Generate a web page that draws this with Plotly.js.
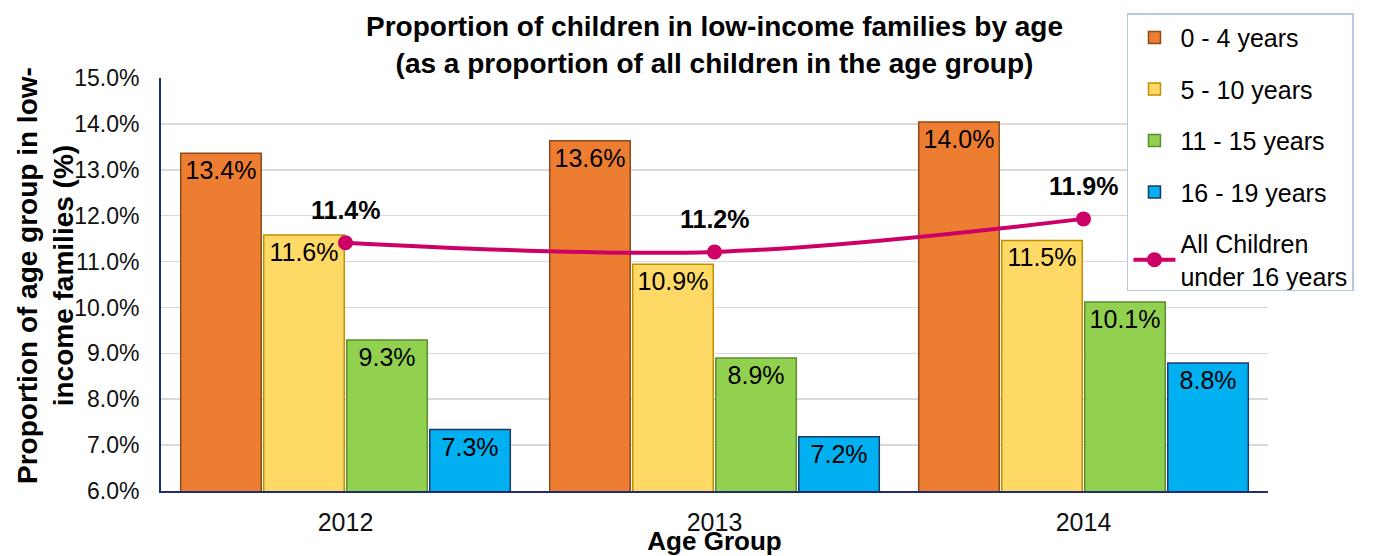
<!DOCTYPE html>
<html>
<head>
<meta charset="utf-8">
<script src="https://cdn.plot.ly/plotly-3.0.1.min.js"></script>
<style>html,body{margin:0;padding:0;background:#fff;}#chart{width:1374px;height:556px;}</style>
</head>
<body>
<div id="chart"></div>
<script>
var years = ['2012', '2013', '2014'];
var age0to4 = [13.36, 13.63, 14.04];
var age5to10 = [11.58, 10.94, 11.46];
var age11to15 = [9.29, 8.90, 10.12];
var age16to19 = [7.34, 7.18, 8.79];
var allUnder16 = [11.41, 11.21, 11.93];
var seriesNames = ['0 - 4 years', '5 - 10 years', '11 - 15 years', '16 - 19 years', 'All Children<br>under 16 years'];
var yTitle = '<b>Proportion of age group in low-<br>income families (%)</b>';

var FONT = 'Liberation Sans, Arial, sans-serif';
var fills = ['#ED7D31', '#FFD966', '#92D050', '#00B0F0'];
var edges = ['#8A4A1C', '#BF9000', '#5E8C31', '#1F3864'];
var barData = [age0to4, age5to10, age11to15, age16to19];

var traces = barData.map(function (vals, i) {
  return {
    type: 'bar', x: years, y: vals, name: seriesNames[i], legendgroup: 'g' + i,
    marker: {color: fills[i], line: {color: edges[i], width: 1.5}},
    texttemplate: '%{y:.1f}%', textposition: 'inside', insidetextanchor: 'end',
    textangle: 0, constraintext: 'none',
    insidetextfont: {family: FONT, size: 25, color: '#000'},
    hoverinfo: 'skip'
  };
});
traces.push({
  type: 'scatter', mode: 'lines+markers', x: years, y: allUnder16, name: seriesNames[4], legendgroup: 'g4',
  line: {color: '#CC0066', width: 4, shape: 'spline', smoothing: 1},
  marker: {color: '#CC0066', size: 15},
  hoverinfo: 'skip'
});

var annotations = years.map(function (yr, i) {
  return {x: i, y: allUnder16[i], xref: 'x', yref: 'y', text: allUnder16[i].toFixed(1) + '%',
    showarrow: false, yshift: 33, font: {family: FONT, size: 25, color: '#000', weight: 'bold'}};
});
annotations.push({x: -0.1048, y: 0.523, xref: 'paper', yref: 'paper', xanchor: 'center', yanchor: 'middle',
  text: yTitle, textangle: -90, showarrow: false, font: {family: FONT, size: 28, color: '#000'}});

var layout = {
  width: 1374, height: 556,
  margin: {l: 161, r: 106, t: 78, b: 65},
  paper_bgcolor: '#fff', plot_bgcolor: '#fff',
  font: {family: FONT, color: '#000'},
  title: {text: '<b>Proportion of children in low-income families by age<br>(as a proportion of all children in the age group)</b>',
    font: {family: FONT, size: 28, color: '#000'}, x: 0.5, xref: 'paper', y: 0.935, yref: 'container', yanchor: 'top'},
  barmode: 'group', bargap: 0.1, bargroupgap: 0.03,
  xaxis: {type: 'category', range: [-0.5, years.length - 0.5], showline: true, linecolor: '#1F2F6B', linewidth: 2,
    ticks: 'outside', ticklen: 8, tickcolor: 'rgba(0,0,0,0)',
    tickfont: {family: FONT, size: 25, color: '#111'},
    title: {text: '<b>Age Group</b>', font: {family: FONT, size: 26, color: '#000'}, standoff: 6}},
  yaxis: {range: [6, 15], dtick: 1, tickformat: '.1f', ticksuffix: '%', showline: true, linecolor: '#1F2F6B', linewidth: 2,
    gridcolor: '#D9D9D9', gridwidth: 1.5, zeroline: false, ticks: 'outside', ticklen: 15, tickcolor: 'rgba(0,0,0,0)',
    tickfont: {family: FONT, size: 23, color: '#111'}},
  legend: {x: 0.8726, xref: 'paper', xanchor: 'left', y: 1.157, yanchor: 'top',
    bgcolor: '#fff', bordercolor: '#B4C7E7', borderwidth: 1.5,
    font: {family: FONT, size: 25, color: '#000'}, traceorder: 'grouped', tracegroupgap: 16, itemwidth: 42},
  annotations: annotations,
  showlegend: true
};

Plotly.newPlot('chart', traces, layout, {displayModeBar: false, staticPlot: true});
</script>
</body>
</html>
